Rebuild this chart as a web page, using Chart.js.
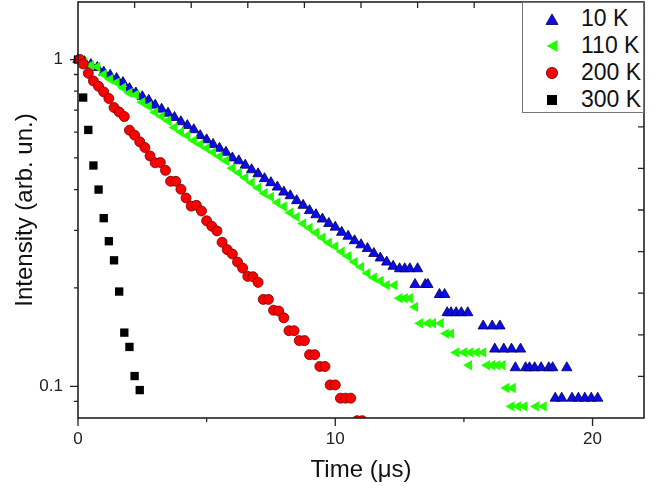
<!DOCTYPE html>
<html>
<head>
<meta charset="utf-8">
<script src="https://cdn.jsdelivr.net/npm/chart.js@4/dist/chart.umd.min.js"></script>
<style>
  body { margin: 0; background: #fff; }
  #wrap { position: relative; width: 660px; height: 492px; }
  #legend {
    position: absolute; box-sizing: border-box; width: 122px; height: 111px;
    border: 1px solid #777; background: #fff; padding-top: 2px;
    font-family: "Liberation Sans", Arial, sans-serif; font-size: 23px; color: #111;
  }
  #legend .row { display: flex; align-items: center; height: 27px; }
  #legend .mk { width: 58px; display: flex; justify-content: center; }
</style>
</head>
<body>
<div id="wrap">
  <canvas id="decay" width="660" height="492"></canvas>
  <div id="legend"></div>
</div>
<script>
// series names
const seriesLabels = ['10 K', '110 K', '200 K', '300 K'];

// 10 K
const t10K = [0, 0.25, 0.5, 0.75, 1, 1.25, 1.5, 1.75, 2, 2.25,
  2.5, 2.75, 3, 3.25, 3.5, 3.75, 4, 4.25, 4.5, 4.75,
  5, 5.25, 5.5, 5.75, 6, 6.25, 6.5, 6.75, 7, 7.25,
  7.5, 7.75, 8, 8.25, 8.5, 8.75, 9, 9.25, 9.5, 9.75,
  10, 10.25, 10.5, 10.75, 11, 11.25, 11.5, 11.75, 12, 12.25,
  12.5, 12.7, 12.9, 13.2, 13.1, 13.5, 13.6, 14.05, 14.25, 14.35,
  14.5, 14.7, 14.9, 15.15, 15.75, 16.1, 16.4, 16.2, 16.55, 16.85,
  17.2, 17.0, 17.4, 17.55, 17.75, 18.0, 18.3, 18.45, 19.0, 18.55,
  18.8, 19.2, 19.45, 19.7, 19.95, 20.2];
const i10K = [1.0, 0.985, 0.965, 0.945, 0.915, 0.895, 0.875, 0.85, 0.815, 0.79,
  0.77, 0.75, 0.725, 0.705, 0.685, 0.665, 0.645, 0.628, 0.61, 0.585,
  0.568, 0.55, 0.535, 0.52, 0.50, 0.49, 0.475, 0.46, 0.447, 0.432,
  0.42, 0.407, 0.393, 0.383, 0.37, 0.358, 0.345, 0.335, 0.325, 0.315,
  0.307, 0.296, 0.288, 0.279, 0.271, 0.264, 0.255, 0.247, 0.24, 0.233,
  0.229, 0.229, 0.229, 0.229, 0.205, 0.205, 0.205, 0.191, 0.191, 0.168,
  0.168, 0.168, 0.168, 0.168, 0.153, 0.153, 0.153, 0.130, 0.130, 0.130,
  0.130, 0.114, 0.114, 0.114, 0.114, 0.114, 0.114, 0.114, 0.114, 0.092,
  0.092, 0.092, 0.092, 0.092, 0.092, 0.092];

// 110 K
const t110K = [0, 0.25, 0.5, 0.75, 1, 1.25, 1.5, 1.75, 2, 2.25,
  2.5, 2.75, 3, 3.25, 3.5, 3.75, 4, 4.25, 4.5, 4.75,
  5, 5.25, 5.5, 5.75, 6, 6.25, 6.5, 6.75, 7, 7.25,
  7.5, 7.75, 8, 8.25, 8.5, 8.75, 9, 9.25, 9.5, 9.75,
  10, 10.25, 10.5, 10.75, 11, 11.25, 11.5, 11.75, 12,
  12.3, 12.5, 12.7, 12.9, 13.1, 13.3, 13.6, 13.8, 14.1, 14.3,
  14.5, 14.7, 15.0, 15.2, 15.25, 15.5, 15.75, 15.9, 16.1, 16.3,
  16.5, 16.65, 16.9, 16.85, 17.1, 17.35, 17.8, 18.1];
const i110K = [1.0, 0.98, 0.96, 0.95, 0.90, 0.87, 0.85, 0.82, 0.79, 0.78,
  0.74, 0.72, 0.69, 0.67, 0.65, 0.62, 0.60, 0.585, 0.565, 0.55,
  0.535, 0.52, 0.505, 0.49, 0.465, 0.45, 0.435, 0.42, 0.405, 0.39,
  0.38, 0.365, 0.355, 0.34, 0.33, 0.315, 0.305, 0.295, 0.285, 0.275,
  0.268, 0.258, 0.25, 0.24, 0.232, 0.222, 0.215, 0.21, 0.204,
  0.204, 0.186, 0.186, 0.186, 0.175, 0.156, 0.156, 0.156, 0.156, 0.145,
  0.145, 0.127, 0.127, 0.116, 0.127, 0.127, 0.127, 0.116, 0.116, 0.116,
  0.116, 0.0988, 0.0988, 0.0868, 0.0868, 0.0868, 0.0868, 0.0868];

// 200 K
const t200K = [0.08, 0.2, 0.4, 0.6, 0.8, 1.0, 1.2, 1.4, 1.6, 1.8,
  2.0, 2.2, 2.4, 2.6, 2.8, 3.0, 3.2, 3.4, 3.6, 3.8,
  4.0, 4.2, 4.4, 4.6, 4.8, 5.0, 5.2, 5.4, 5.6, 5.8,
  6.0, 6.2, 6.4, 6.6, 6.8, 7.0, 7.2, 7.4, 7.6, 7.8,
  8.0, 8.2, 8.4, 8.6, 8.8, 9.0, 9.2, 9.4, 9.6, 9.8,
  10.0, 10.2, 10.4, 10.6, 10.85, 11.05];
const i200K = [1.0, 0.969, 0.908, 0.86, 0.828, 0.796, 0.76, 0.713, 0.691, 0.669,
  0.608, 0.587, 0.56, 0.538, 0.507, 0.483, 0.484, 0.458, 0.424, 0.424,
  0.401, 0.377, 0.356, 0.358, 0.344, 0.321, 0.309, 0.299, 0.276, 0.262,
  0.254, 0.24, 0.23, 0.217, 0.2165, 0.208, 0.1845, 0.1845, 0.171, 0.17,
  0.162, 0.148, 0.148, 0.138, 0.138, 0.125, 0.125, 0.115, 0.115, 0.101,
  0.101, 0.092, 0.092, 0.092, 0.0785, 0.0785];

// 300 K
const t300K = [0, 0.2, 0.4, 0.6, 0.8, 1.0, 1.2, 1.4, 1.6, 1.8, 2.0, 2.2, 2.4];
const i300K = [1.0, 0.765, 0.609, 0.474, 0.400, 0.327, 0.278, 0.243, 0.195, 0.146, 0.132, 0.1075, 0.0974];

// axis ticks
const xTickValues = [0, 5, 10, 15, 20];
const xTickLabels = ['0', '', '10', '', '20'];
const yTickValues = [0.09, 0.1, 0.2, 0.3, 0.4, 0.5, 0.6, 0.7, 0.8, 0.9, 1];
const yTickLabels = ['', '0.1', '', '', '', '', '', '', '', '', '1'];

const looks = [
  { shape: 'triangle', rot: 0, r: 6, fill: '#0b0bf0', line: '#000040', lw: 0.8 },
  { shape: 'triangle', rot: -90, r: 6, fill: '#22ff00', line: '#22ff00', lw: 0 },
  { shape: 'circle', rot: 0, r: 5, fill: '#ff0000', line: '#6a0000', lw: 0.8 },
  { shape: 'rect', rot: 0, r: 5.9, fill: '#000000', line: '#000000', lw: 0 }
];

const zip = (xs, ys) => xs.map((x, i) => ({ x: x, y: ys[i] }));
const series = [zip(t10K, i10K), zip(t110K, i110K), zip(t200K, i200K), zip(t300K, i300K)];
const drawOrder = [4, 3, 1, 2];

const font = 'Liberation Sans, Arial, sans-serif';

// frame with inward ticks on top/right, outward ticks on left/bottom
const frameTicks = {
  id: 'frameTicks',
  afterDatasetsDraw(chart) {
    const { ctx, chartArea: a, scales } = chart;
    ctx.save();
    ctx.strokeStyle = '#222';
    ctx.lineWidth = 1.3;
    ctx.beginPath();
    scales.y.ticks.forEach(t => {
      const py = scales.y.getPixelForValue(t.value);
      const len = t.label ? 8 : 4;
      ctx.moveTo(a.left - len, py); ctx.lineTo(a.left, py);
    });
    scales.x.ticks.forEach(t => {
      const px = scales.x.getPixelForValue(t.value);
      const len = t.label ? 8 : 4;
      ctx.moveTo(px, a.bottom); ctx.lineTo(px, a.bottom + len);
    });
    for (let i = 1; i < 10; i++) {
      const px = a.left + a.width * i / 10;
      ctx.moveTo(px, a.top); ctx.lineTo(px, a.top + 6);
      const py = a.top + a.height * i / 10;
      ctx.moveTo(a.right, py); ctx.lineTo(a.right - 6, py);
    }
    ctx.stroke();
    ctx.lineWidth = 1.6;
    ctx.strokeRect(a.left, a.top, a.width, a.height);
    ctx.restore();
  }
};

const chart = new Chart(document.getElementById('decay'), {
  type: 'scatter',
  data: {
    datasets: series.map((pts, k) => ({
      label: seriesLabels[k],
      data: pts,
      order: drawOrder[k],
      pointStyle: looks[k].shape,
      rotation: looks[k].rot,
      pointRadius: looks[k].r,
      pointBackgroundColor: looks[k].fill,
      pointBorderColor: looks[k].line,
      pointBorderWidth: looks[k].lw,
      clip: { left: 10, top: 10, right: 10, bottom: 0 }
    }))
  },
  options: {
    responsive: false,
    animation: false,
    layout: { autoPadding: false, padding: { top: 2, right: 16, left: 0, bottom: 0 } },
    plugins: { legend: { display: false }, tooltip: { enabled: false } },
    scales: {
      x: {
        type: 'linear', min: 0, max: 22,
        grid: { display: false, drawTicks: false },
        border: { display: false },
        afterBuildTicks: s => { s.ticks = xTickValues.map(v => ({ value: v })); },
        afterFit: s => { s.height = 74; s.paddingLeft = 0; s.paddingRight = 0; },
        ticks: {
          autoSkip: false, padding: 11, color: '#222',
          font: { family: font, size: 17 },
          callback: (v, i) => xTickLabels[i]
        },
        title: {
          display: true, text: 'Time (μs)', color: '#111',
          font: { family: font, size: 24 }, padding: { top: 0, bottom: 7 }
        }
      },
      y: {
        type: 'logarithmic', min: 0.08, max: 1.5,
        grid: { display: false, drawTicks: false },
        border: { display: false },
        afterBuildTicks: s => { s.ticks = yTickValues.map(v => ({ value: v })); },
        afterFit: s => { s.width = 78; s.paddingTop = 0; s.paddingBottom = 0; },
        ticks: {
          autoSkip: false, padding: 15, color: '#222',
          font: { family: font, size: 17 },
          callback: (v, i) => yTickLabels[i]
        },
        title: {
          display: true, text: 'Intensity (arb. un.)', color: '#111',
          font: { family: font, size: 24 }, padding: { top: 11, bottom: 0 }
        }
      }
    }
  },
  plugins: [frameTicks]
});

// legend box in the top-right corner of the plot
const marks = {
  triangle: (c, l) => `<polygon points="1,12.5 13,12.5 7,2" fill="${c}" stroke="${l}" stroke-width="0.8"/>`,
  left: (c) => `<polygon points="12.5,1 12.5,13 1.5,7" fill="${c}"/>`,
  circle: (c, l) => `<circle cx="7" cy="7" r="5.6" fill="${c}" stroke="${l}" stroke-width="0.8"/>`,
  rect: (c) => `<rect x="2" y="2" width="10" height="10" fill="${c}"/>`
};
const legendShapes = ['triangle', 'left', 'circle', 'rect'];
const legend = document.getElementById('legend');
const a = chart.chartArea;
legend.style.left = (a.right - 122) + 'px';
legend.style.top = a.top + 'px';
legend.innerHTML = seriesLabels.map((lab, k) =>
  `<div class="row"><span class="mk"><svg width="14" height="14">${marks[legendShapes[k]](looks[k].fill, looks[k].line)}</svg></span><span>${lab}</span></div>`
).join('');
</script>
</body>
</html>
